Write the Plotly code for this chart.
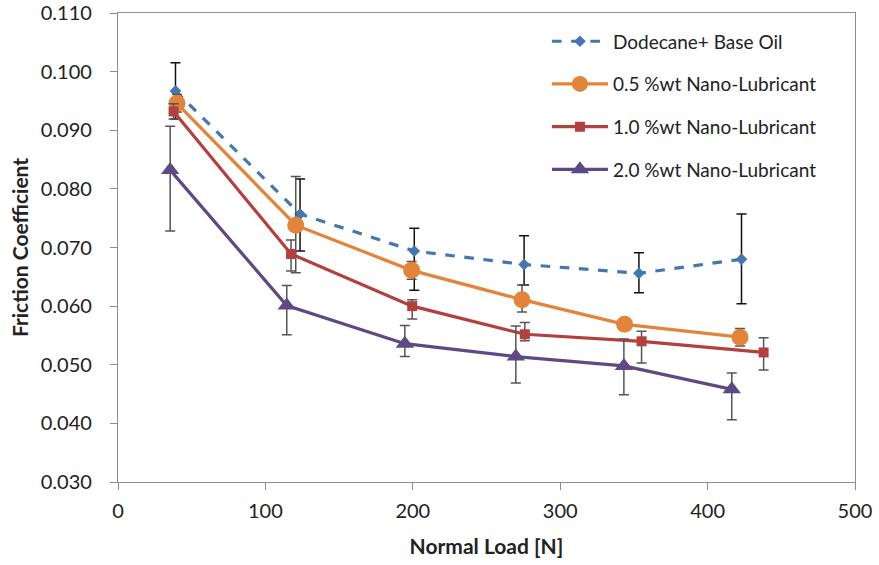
import plotly.graph_objects as go

# ---- data ----
names = ["Dodecane+ Base Oil", "0.5 %wt Nano-Lubricant",
         "1.0 %wt Nano-Lubricant", "2.0 %wt Nano-Lubricant"]

x_base = [39, 123.5, 201, 275.5, 353.4, 423]
y_base = [0.0967, 0.0757, 0.0694, 0.0671, 0.0656, 0.0680]
ep_base = [0.0048, 0.0060, 0.0039, 0.0049, 0.0035, 0.0077]
em_base = [0.0048, 0.0063, 0.0067, 0.0035, 0.0033, 0.0076]

x_05 = [40, 120.6, 199.2, 274.1, 343.7, 422]
y_05 = [0.0946, 0.0738, 0.0661, 0.0611, 0.0569, 0.0547]
ep_05 = [0.0015, 0.0083, 0.0015, 0.0025, 0.0005, 0.0015]
em_05 = [0.0015, 0.0081, 0.0015, 0.0021, 0.0005, 0.0015]

x_10 = [37.7, 117.4, 199.6, 276, 355.2, 438]
y_10 = [0.0932, 0.0689, 0.0600, 0.0552, 0.0540, 0.0521]
ep_10 = [0.0013, 0.0024, 0.0011, 0.0020, 0.0017, 0.0025]
em_10 = [0.0013, 0.0029, 0.0022, 0.0011, 0.0037, 0.0030]

x_20 = [35.4, 114.5, 194.6, 269.9, 343.2, 416.4]
y_20 = [0.0832, 0.0601, 0.0536, 0.0514, 0.0498, 0.0458]
ep_20 = [0.0075, 0.0034, 0.0031, 0.0052, 0.0046, 0.0028]
em_20 = [0.0104, 0.0050, 0.0022, 0.0045, 0.0049, 0.0052]

x_ticks = [0, 100, 200, 300, 400, 500]
y_ticks = [0.030, 0.040, 0.050, 0.060, 0.070, 0.080, 0.090, 0.100, 0.110]

FONT = "Lato"
fig = go.Figure()

series = [
    (x_base, y_base, ep_base, em_base, "#4376B3", "diamond", 9, "dash", "#111111"),
    (x_05, y_05, ep_05, em_05, "#E2843A", "circle", 17, "solid", "#555555"),
    (x_10, y_10, ep_10, em_10, "#B3403E", "square", 10, "solid", "#555555"),
    (x_20, y_20, ep_20, em_20, "#5E4984", "triangle-up", 16, "solid", "#555555"),
]
for i, (xs, ys, ep, em, col, sym, ms, dash, ecol) in enumerate(series):
    fig.add_trace(go.Scatter(
        x=xs, y=ys, name=names[i], mode="lines+markers",
        legendgroup=str(i),
        line=dict(color=col, width=3.2, dash=dash),
        marker=dict(symbol=sym, size=ms, color=col),
        error_y=dict(type="data", symmetric=False, array=ep, arrayminus=em,
                     color=ecol, thickness=1.5, width=5),
    ))

fig.update_layout(
    width=879, height=565,
    margin=dict(l=118, r=24, t=13, b=83),
    plot_bgcolor="white", paper_bgcolor="white",
    font=dict(family=FONT, color="#222222"),
    showlegend=True,
    legend=dict(x=0.582, y=0.98, xanchor="left", yanchor="top",
                font=dict(family=FONT, size=19, color="#222222"),
                bgcolor="rgba(0,0,0,0)", tracegroupgap=15,
                itemwidth=56),
)
fig.update_xaxes(
    range=[0, 500], tickvals=x_ticks, ticktext=[str(v) for v in x_ticks],
    showgrid=False, zeroline=False, showline=True, linecolor="#8c8c8c",
    linewidth=1.2, mirror=True, ticks="outside", ticklen=7, tickcolor="#8c8c8c",
    ticklabelstandoff=4, automargin=False,
    tickfont=dict(family=FONT, size=20, color="#222222"),
    title=dict(text="<b>Normal Load [N]</b>", font=dict(family=FONT, size=21, color="#222222"),
               standoff=18),
)
fig.update_yaxes(
    range=[0.030, 0.110], tickvals=y_ticks, ticktext=[f"{v:.3f}" for v in y_ticks],
    showgrid=False, zeroline=False, showline=True, linecolor="#8c8c8c",
    linewidth=1.2, mirror=True, ticks="outside", ticklen=7, tickcolor="#8c8c8c",
    ticklabelstandoff=14, automargin=False,
    tickfont=dict(family=FONT, size=20, color="#222222"),
    title=dict(text="<b>Friction Coefficient</b>", font=dict(family=FONT, size=21, color="#222222"),
               standoff=6),
)

fig.write_html("out.html")
